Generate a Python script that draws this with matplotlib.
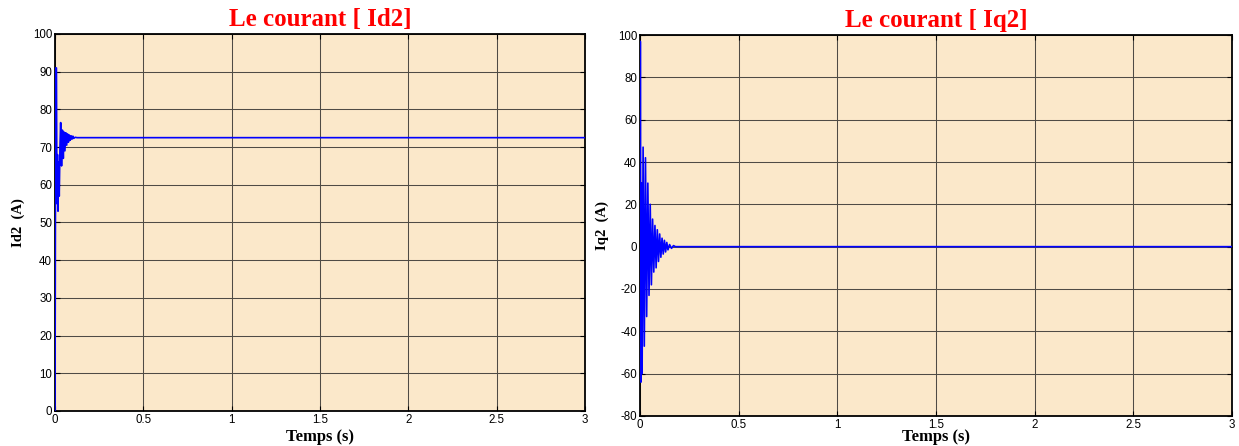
import matplotlib
matplotlib.use("Agg")
import matplotlib.pyplot as plt

# ---- data ----
t_id2 = [0.0, 0.004, 0.008, 0.011, 0.014, 0.017, 0.020, 0.024, 0.028, 0.032,
         0.037, 0.042, 0.047, 0.051, 0.056, 0.061, 0.066, 0.071, 0.076, 0.081,
         0.086, 0.091, 0.096, 0.101, 0.106, 0.114, 0.125, 0.5, 1.0, 1.5, 2.0,
         2.5, 3.0]
id2 = [0.0, 91.0, 91.0, 55.0, 68.0, 53.0, 66.0, 57.0, 70.0, 76.5,
       65.0, 74.5, 67.0, 74.0, 69.0, 73.8, 70.5, 73.5, 71.3, 73.2,
       71.8, 73.0, 72.1, 72.9, 72.3, 72.6, 72.5, 72.5, 72.5, 72.5, 72.5,
       72.5, 72.5]

t_iq2 = [0.0, 0.002, 0.005, 0.008, 0.011, 0.016, 0.022, 0.028, 0.034, 0.040,
         0.046, 0.052, 0.058, 0.064, 0.070, 0.076, 0.082, 0.088, 0.094, 0.100,
         0.106, 0.112, 0.118, 0.124, 0.130, 0.136, 0.142, 0.150, 0.160, 0.170,
         0.180, 0.5, 1.0, 1.5, 2.0, 2.5, 3.0]
iq2 = [-57.0, 97.0, -64.0, 30.0, -60.0, 47.0, -47.0, 42.0, -33.0, 30.0,
       -23.0, 20.0, -18.0, 13.0, -12.0, 10.0, -10.0, 8.0, -7.0, 6.0,
       -5.0, 4.0, -3.5, 3.0, -2.5, 2.0, -1.5, 1.0, -0.8, 0.5,
       0.0, 0.0, 0.0, 0.0, 0.0, 0.0, 0.0]

titles = ["Le courant [ Id2]", "Le courant [ Iq2]"]
ylabels = ["Id2  (A)", "Iq2  (A)"]
xlabel = "Temps (s)"
xticks = [0, 0.5, 1, 1.5, 2, 2.5, 3]
xticklabels = ["0", "0.5", "1", "1.5", "2", "2.5", "3"]
yticks_l = list(range(0, 101, 10))
yticks_r = list(range(-80, 101, 20))

bg = "#FBE8CA"
fig = plt.figure(figsize=(12.39, 4.46), dpi=100)
ax1 = fig.add_axes([0.0444, 0.0785, 0.4278, 0.8453])
ax2 = fig.add_axes([0.5165, 0.0673, 0.4778, 0.8542])

serif = ["Liberation Serif", "DejaVu Serif"]
sans = ["Liberation Sans", "DejaVu Sans"]

for ax, t, y, title, yl, yt, lim, xpad in [
        (ax1, t_id2, id2, titles[0], ylabels[0], yticks_l, (0, 100), 2),
        (ax2, t_iq2, iq2, titles[1], ylabels[1], yticks_r, (-80, 100), -1.5)]:
    ax.set_facecolor(bg)
    ax.plot(t, y, color="#0000FF", lw=1.2, zorder=3)
    ax.set_xlim(0, 3)
    ax.set_ylim(*lim)
    ax.set_xticks(xticks)
    ax.set_xticklabels(xticklabels, fontfamily=sans, fontsize=8.3)
    ax.set_yticks(yt)
    ax.set_yticklabels([str(v) for v in yt], fontfamily=sans, fontsize=8.3)
    ax.grid(True, color="#4f4b45", lw=0.75, zorder=1)
    ax.tick_params(direction="in", top=True, right=True, length=3.5,
                   width=0.8, pad=2, colors="black")
    for s in ax.spines.values():
        s.set_linewidth(1.3)
        s.set_color("black")
    ax.set_title(title, color="#FF0000", fontfamily=serif, fontweight="bold",
                 fontsize=18, pad=6)
    ax.set_ylabel(yl, fontfamily=serif, fontweight="bold", fontsize=10.5,
                  labelpad=6)
    ax.set_xlabel(xlabel, fontfamily=serif, fontweight="bold", fontsize=12,
                  labelpad=xpad)

fig.savefig("out.png", dpi=100, facecolor="white")
